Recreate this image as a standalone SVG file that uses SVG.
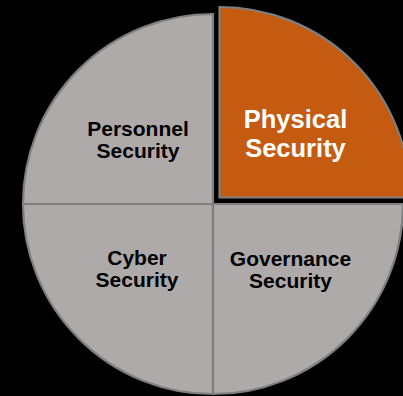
<svg xmlns="http://www.w3.org/2000/svg" width="403" height="396" viewBox="0 0 403 396">
<style>
.slice{fill:#AEAAAA;stroke:#7F7F7F;stroke-width:2.2;stroke-linejoin:miter}
.hl{fill:#C55A11;stroke:#7F7F7F;stroke-width:2.2}
.lbl{font-family:"Liberation Sans",Arial,sans-serif;font-weight:bold;font-size:21px;fill:#000;text-anchor:middle}
.lblw{font-family:"Liberation Sans",Arial,sans-serif;font-weight:bold;font-size:25.5px;fill:#fff;text-anchor:middle}
</style>
<rect width="403" height="396" fill="#000"/>
<g id="personnel">
<path class="slice" d="M213,204 L213,14 A190,190 0 0 0 23,204 Z"/>
<text class="lbl" x="138" y="136">Personnel</text>
<text class="lbl" x="138" y="157.5">Security</text>
</g>
<g id="cyber">
<path class="slice" d="M213,204 L23,204 A190,190 0 0 0 213,394 Z"/>
<text class="lbl" x="137" y="265">Cyber</text>
<text class="lbl" x="137" y="286.7">Security</text>
</g>
<g id="governance">
<path class="slice" d="M213,204 L213,394 A190,190 0 0 0 403,204 Z"/>
<text class="lbl" x="290.5" y="266">Governance</text>
<text class="lbl" x="290.5" y="287.5">Security</text>
</g>
<g id="physical">
<path class="hl" d="M219.5,197.5 L410,197.5 A190.5,190.5 0 0 0 219.5,7 Z"/>
<text class="lblw" x="295.5" y="128.3">Physical</text>
<text class="lblw" x="295.5" y="156.5">Security</text>
</g>
<g id="connectors"/>
</svg>
